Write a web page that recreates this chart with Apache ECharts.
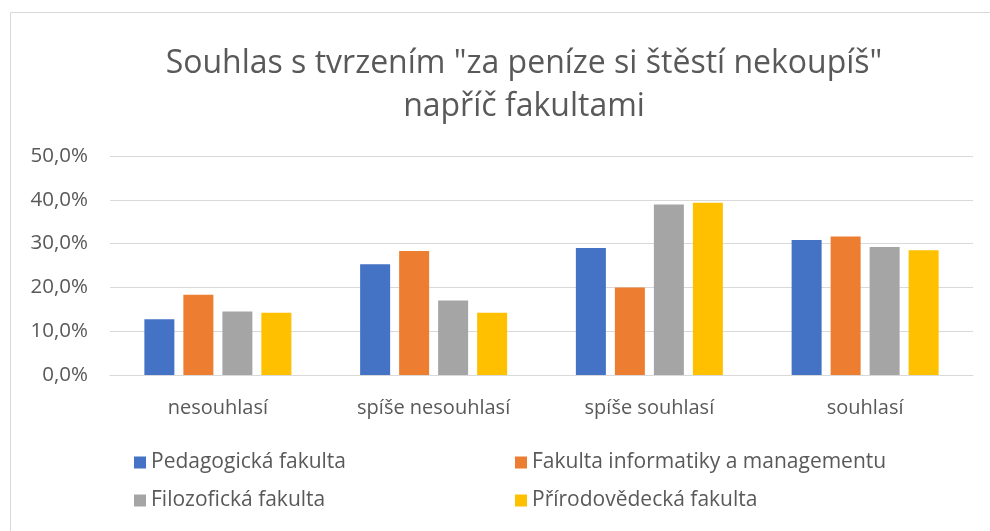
<!DOCTYPE html>
<html>
<head>
<meta charset="utf-8">
<script src="https://cdn.jsdelivr.net/npm/echarts@6/dist/echarts.min.js"></script>
<style>
html,body{margin:0;padding:0;background:#fff;}
#chart{width:990px;height:531px;}
</style>
</head>
<body>
<div id="chart"></div>
<script>
const titleText = 'Souhlas s tvrzením "za peníze si štěstí nekoupíš"\nnapříč fakultami';
const categories = ['nesouhlasí', 'spíše nesouhlasí', 'spíše souhlasí', 'souhlasí'];
const seriesNames = ['Pedagogická fakulta', 'Fakulta informatiky a managementu', 'Filozofická fakulta', 'Přírodovědecká fakulta'];
const pedagogicka = [12.7, 25.3, 29.0, 30.8];
const informatika = [18.3, 28.3, 20.0, 31.6];
const filozoficka = [14.5, 17.0, 38.9, 29.2];
const prirodovedecka = [14.2, 14.2, 39.3, 28.5];
const yTicks = [0, 10, 20, 30, 40, 50];

const colors = ['#4472C4', '#ED7D31', '#A5A5A5', '#FFC000'];
const values = [pedagogicka, informatika, filozoficka, prirodovedecka];
const FONT = '"Open Sans", sans-serif';
const TEXT = '#595959';

const chart = echarts.init(document.getElementById('chart'));
const legendPos = [[134, 452], [515, 452], [134, 490], [515, 490]];

chart.setOption({
  animation: false,
  backgroundColor: '#fff',
  textStyle: {fontFamily: FONT},
  graphic: [
    {type: 'rect', shape: {x: 10.5, y: 12.5, width: 1000, height: 600}, style: {fill: null, stroke: '#d9d9d9', lineWidth: 1}, silent: true},
    {type: 'text', x: 524, y: 42, style: {text: titleText, font: '32px "Open Sans", sans-serif', fill: TEXT, align: 'center', verticalAlign: 'top', lineHeight: 43}}
  ],
  legend: seriesNames.map((n, i) => ({
    data: [n], left: legendPos[i][0], top: legendPos[i][1],
    icon: 'rect', itemWidth: 12, itemHeight: 12, itemGap: 0, padding: 0,
    textStyle: {color: TEXT, fontSize: 21, fontFamily: FONT}
  })),
  grid: {left: 110, right: 17, top: 156, bottom: 156, containLabel: false},
  xAxis: {
    type: 'category', data: categories,
    axisLine: {lineStyle: {color: '#d9d9d9', width: 1}},
    axisTick: {show: false},
    axisLabel: {color: TEXT, fontSize: 20, margin: 23, fontFamily: FONT}
  },
  yAxis: {
    type: 'value', min: yTicks[0], max: yTicks[yTicks.length - 1], interval: 10,
    axisLine: {show: false}, axisTick: {show: false},
    splitLine: {lineStyle: {color: '#d9d9d9', width: 1}},
    axisLabel: {color: TEXT, fontSize: 20.5, margin: 22, fontFamily: FONT,
      formatter: v => v.toFixed(1).replace('.', ',') + '%'}
  },
  series: seriesNames.map((n, i) => ({
    name: n, type: 'bar', data: values[i], barWidth: 30, barGap: '30%',
    itemStyle: {color: colors[i]}
  }))
});
</script>
</body>
</html>
